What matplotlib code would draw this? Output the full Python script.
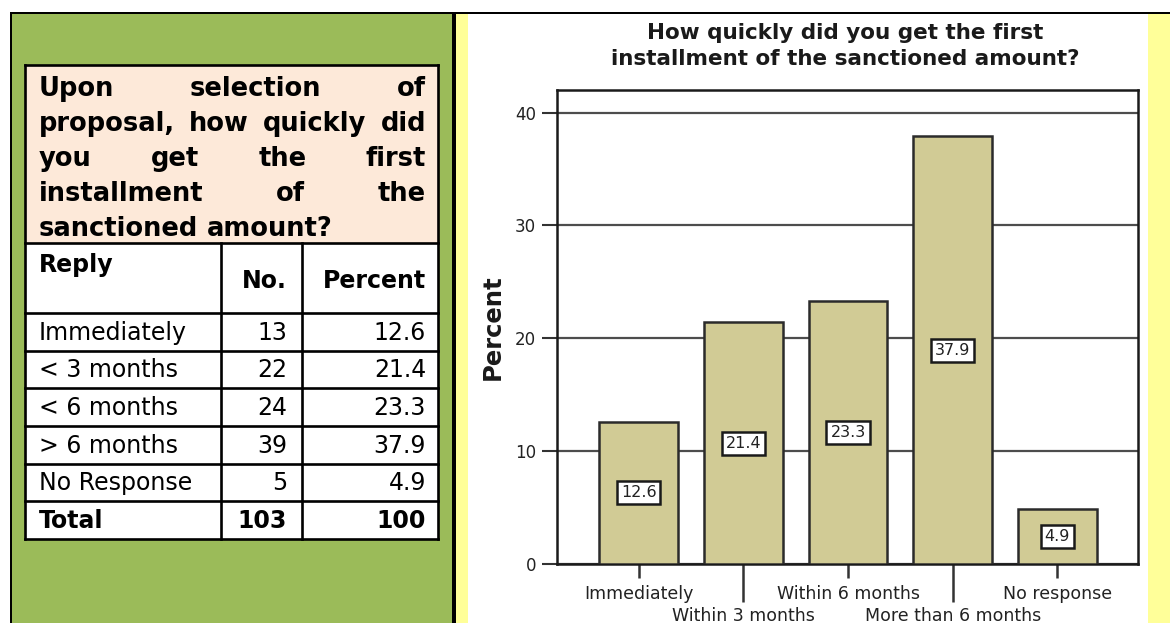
import matplotlib
matplotlib.use("Agg")
import matplotlib.pyplot as plt
from matplotlib.patches import Rectangle

# ---------------- data ----------------
replies = ["Immediately", "< 3 months", "< 6 months", "> 6 months", "No Response"]
counts = [13, 22, 24, 39, 5]
percents = [12.6, 21.4, 23.3, 37.9, 4.9]
total_label = "Total"
total_count = 103
total_percent = 100
header_labels = ["Reply", "No.", "Percent"]
question_lines = [
    ["Upon", "selection", "of"],
    ["proposal,", "how", "quickly", "did"],
    ["you", "get", "the", "first"],
    ["installment", "of", "the"],
    ["sanctioned", "amount?"],
]
chart_title = ["How quickly did you get the first",
               "installment of the sanctioned amount?"]
categories = ["Immediately", "Within 3 months", "Within 6 months",
              "More than 6 months", "No response"]
chart_values = [12.6, 21.4, 23.3, 37.9, 4.9]
yticks = [0, 10, 20, 30, 40]
ylabel = "Percent"

# ---------------- figure ----------------
W, H = 1170, 623
fig = plt.figure(figsize=(W / 100, H / 100), dpi=100)
bg = fig.add_axes([0, 0, 1, 1])
bg.set_xlim(0, W)
bg.set_ylim(H, 0)
bg.axis("off")


def rect(x0, y0, x1, y1, fc, z=1):
    bg.add_patch(Rectangle((x0, y0), x1 - x0, y1 - y0, facecolor=fc,
                           edgecolor="none", linewidth=0, zorder=z))


rect(0, 0, W, H, "white", 0)
rect(10, 12, W, H, "black", 1)
rect(12, 14, 452, H, "#9BBB59", 2)
rect(456, 14, W, H, "#FFFF99", 2)
rect(468, 14, 1148, H, "white", 3)

# ---------------- table ----------------
tx0, tx1 = 25, 438
c1, c2 = 221, 302
t_top, t_q, t_h = 65, 243, 313
n_rows = len(replies) + 1
row_h = (539 - t_h) / n_rows
t_bot = t_h + n_rows * row_h
rect(tx0, t_top, tx1, t_q, "#FDE9D9", 4)
rect(tx0, t_q, tx1, t_bot, "white", 4)
lw = 1.9
for yy in [t_top, t_q] + [t_h + k * row_h for k in range(n_rows + 1)]:
    bg.plot([tx0, tx1], [yy, yy], color="black", lw=lw, zorder=6,
            solid_capstyle="projecting")
for xx in (tx0, tx1):
    bg.plot([xx, xx], [t_top, t_bot], color="black", lw=lw, zorder=6,
            solid_capstyle="projecting")
for xx in (c1, c2):
    bg.plot([xx, xx], [t_q, t_bot], color="black", lw=lw, zorder=6)

fam = "DejaVu Sans"
renderer = fig.canvas.get_renderer()
qx0, qx1 = 39, 426
for i, words in enumerate(question_lines):
    yb = 96 + 35 * i
    texts = [bg.text(0, yb, w, fontsize=18.5, fontweight="bold", family=fam,
                     va="baseline", ha="left", zorder=7) for w in words]
    widths = [t.get_window_extent(renderer=renderer).width for t in texts]
    if i < len(question_lines) - 1:
        gap = (qx1 - qx0 - sum(widths)) / (len(words) - 1)
    else:
        sp = bg.text(0, 0, "a a", fontsize=18.5, fontweight="bold", family=fam)
        sp2 = bg.text(0, 0, "aa", fontsize=18.5, fontweight="bold", family=fam)
        gap = (sp.get_window_extent(renderer=renderer).width
               - sp2.get_window_extent(renderer=renderer).width)
        sp.remove()
        sp2.remove()
    x = qx0
    for t, w in zip(texts, widths):
        t.set_x(x)
        x += w + gap

fs = 17
bg.text(qx0, 272, header_labels[0], fontsize=fs, fontweight="bold", family=fam,
        va="baseline", ha="left", zorder=7)
bg.text(287, 288, header_labels[1], fontsize=fs, fontweight="bold", family=fam,
        va="baseline", ha="right", zorder=7)
bg.text(426, 288, header_labels[2], fontsize=fs, fontweight="bold", family=fam,
        va="baseline", ha="right", zorder=7)

rows = list(zip(replies, counts, percents)) + [(total_label, total_count, total_percent)]
for k, (lab, n, p) in enumerate(rows):
    yb = t_h + (k + 1) * row_h - 11
    wt = "bold" if k == len(rows) - 1 else "normal"
    bg.text(qx0, yb, lab, fontsize=fs, fontweight=wt, family=fam,
            va="baseline", ha="left", zorder=7)
    bg.text(287, yb, str(n), fontsize=fs, fontweight=wt, family=fam,
            va="baseline", ha="right", zorder=7)
    bg.text(426, yb, str(p), fontsize=fs, fontweight=wt, family=fam,
            va="baseline", ha="right", zorder=7)

# ---------------- chart ----------------
ax_l, ax_r, ax_t, ax_b = 557, 1138, 90, 564
ax = fig.add_axes([ax_l / W, 1 - ax_b / H, (ax_r - ax_l) / W, (ax_b - ax_t) / H])
ax.set_facecolor("white")
xs = list(range(len(categories)))
ax.bar(xs, chart_values, width=0.754, color="#D1CB95", edgecolor="#2b2b2b",
       linewidth=1.8, zorder=3)
ax.set_xlim(-0.78, 4.77)
ax.set_ylim(0, 42)
ax.set_yticks(yticks)
ax.yaxis.grid(True, color="#4d4d4d", linewidth=1.6)
ax.set_axisbelow(True)
for s in ax.spines.values():
    s.set_linewidth(1.8)
    s.set_color("#1a1a1a")
ax.tick_params(axis="y", length=11, width=1.5, color="#333333", labelsize=12,
               pad=4, labelcolor="#222222")
major_idx = [0, 2, 4]
minor_idx = [1, 3]
ax.set_xticks(major_idx)
ax.set_xticklabels([categories[i] for i in major_idx])
ax.set_xticks(minor_idx, minor=True)
ax.set_xticklabels([categories[i] for i in minor_idx], minor=True)
ax.tick_params(axis="x", which="major", length=10, width=1.8, color="#333333",
               pad=5, labelsize=12.5, labelcolor="#222222")
ax.tick_params(axis="x", which="minor", length=27, width=1.8, color="#333333",
               pad=4, labelsize=12.5, labelcolor="#222222")
for xi, v in zip(xs, chart_values):
    ax.text(xi, v / 2, f"{v}", ha="center", va="center", fontsize=11.5,
            color="#222222", zorder=5,
            bbox=dict(boxstyle="square,pad=0.25", fc="white", ec="#1a1a1a", lw=1.8))

bg.text(493, (ax_t + ax_b) / 2, ylabel, rotation=90, ha="center", va="center",
        fontsize=17.5, fontweight="bold", family=fam, color="#1a1a1a", zorder=7)
bg.text(845, 39, chart_title[0], ha="center", va="baseline", fontsize=15.5,
        fontweight="bold", family=fam, color="#1a1a1a", zorder=7)
bg.text(845, 65, chart_title[1], ha="center", va="baseline", fontsize=15.5,
        fontweight="bold", family=fam, color="#1a1a1a", zorder=7)

fig.savefig("out.png", dpi=100)
